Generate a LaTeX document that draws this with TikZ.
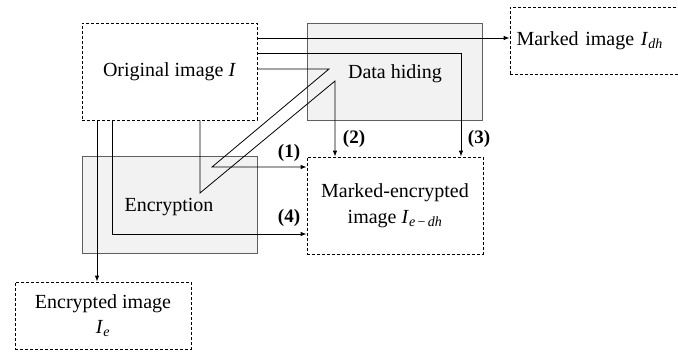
\documentclass[tikz,border=0pt]{standalone}
\usepackage{fontspec}
\setmainfont{Liberation Serif}
\usetikzlibrary{arrows.meta}

\begin{document}
\begin{tikzpicture}[x=1pt, y=-1pt,
  dashbox/.style={draw, dash pattern=on 3pt off 2pt, line width=0.8pt, minimum width=175pt, align=center},
  grayblock/.style={draw=blockgray, fill=lightfill, line width=0.9pt, minimum width=175pt, minimum height=97pt},
  conn/.style={line width=0.8pt, ->, >={Latex[length=6pt,width=4.5pt]}},
  num/.style={font=\fontsize{19}{22}\selectfont\bfseries}]

\definecolor{lightfill}{RGB}{242,242,242}
\definecolor{blockgray}{RGB}{95,95,95}
\def\fsize{20}

\useasboundingbox (0,0) rectangle (678,353);

% Bloecke
\node[grayblock] (hide) at (394.5,71.5) {};
\node[grayblock] (enc) at (169.5,205) {};
\node[font=\fontsize{\fsize}{24}\selectfont] at (395,74) {Data hiding};
\node[font=\fontsize{\fsize}{24}\selectfont] at (169,207) {Encryption};

% Bilder
\node[dashbox, minimum height=97pt, font=\fontsize{\fsize}{24}\selectfont] (orig) at (169.5,71.5) {Original image \textit{I}};
\node[dashbox, minimum width=182pt, minimum height=67pt, font=\fontsize{\fsize}{24}\selectfont, text width=175pt, align=left] (mark) at (601,40.5) {\hspace*{3pt}Marked image \textit{I}\textsubscript{\textit{dh}}};
\node[dashbox, minimum width=176pt, minimum height=97pt, font=\fontsize{\fsize}{26}\selectfont] (mkenc) at (395,205.5) {Marked-encrypted\\image \textit{I}\textsubscript{\textit{e}\,−\,\textit{dh}}};
\node[dashbox, minimum width=176pt, minimum height=67pt, font=\fontsize{\fsize}{25}\selectfont] (encimg) at (103,315.5) {Encrypted image\\\textit{I}\textsubscript{\textit{e}}};

% Pfeile
\draw[conn] (orig.east |- 0,38) -- (mark.west |- 0,38);
\draw[conn] (orig.east |- 0,53) -| (mkenc.north -| 461,0);
\draw[conn] (orig.east |- 0,69) -- (329,69) -- (212,167) -- (mkenc.west |- 0,167);
\draw[conn] (orig.south -| 200,0) -- (200,193) -- (335,81) -- (mkenc.north -| 335,0);
\draw[conn] (orig.south -| 97,0) -- (encimg.north -| 97,0);
\draw[conn] (orig.south -| 112,0) |- (mkenc.west |- 0,234);

% Nummern
\node[num] (n1) at (289,153) {(1)};
\node[num] (n2) at (354,139) {(2)};
\node[num] (n3) at (479,139) {(3)};
\node[num] (n4) at (289,218) {(4)};

\end{tikzpicture}
\end{document}
